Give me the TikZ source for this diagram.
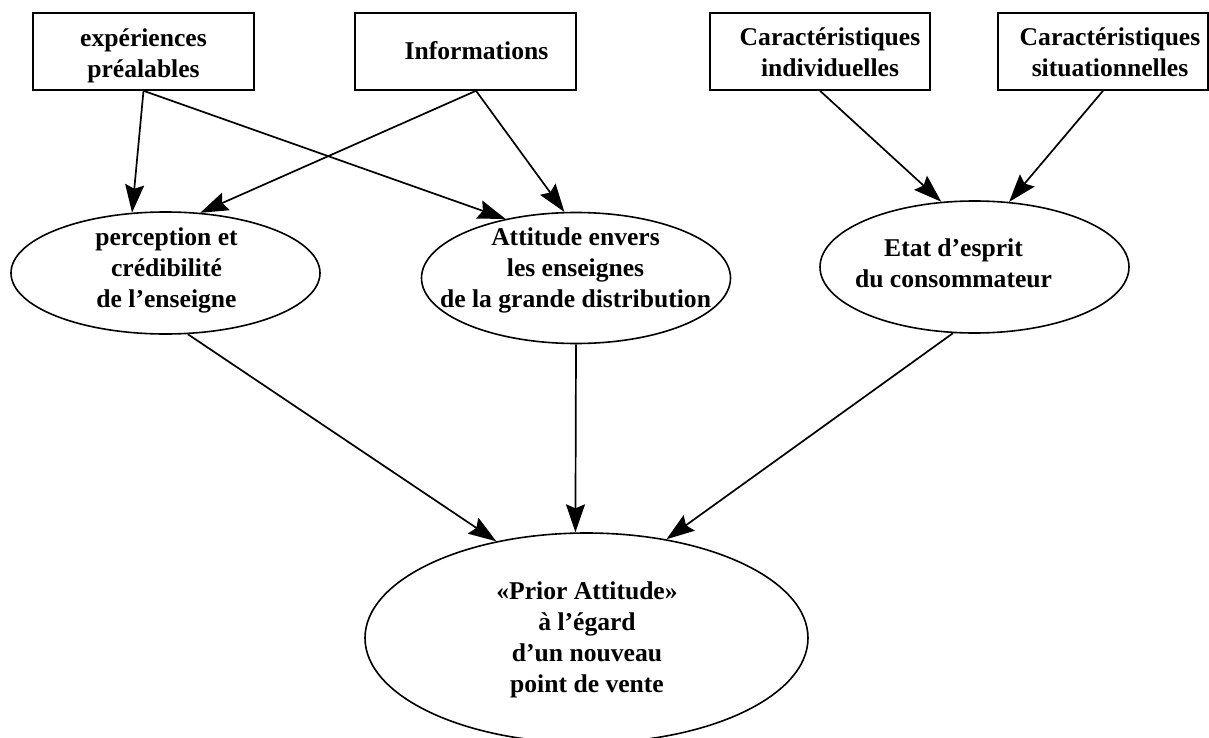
\documentclass[tikz,border=0pt]{standalone}
\usepackage{fontspec}
\setmainfont{Liberation Serif}
\usetikzlibrary{shapes.geometric,arrows.meta}
\begin{document}
\begin{tikzpicture}[x=1pt,y=-1pt,
  box/.style={draw,line width=1.6pt,minimum height=77pt,inner sep=0pt},
  oval/.style={draw,ellipse,line width=1.6pt,inner sep=0pt},
  txt/.style={align=center,inner sep=0pt,font=\bfseries\fontsize{25.6}{31}\selectfont},
  arr/.style={line width=1.7pt,-{Stealth[length=28pt,width=19pt,inset=4pt]}}]
\clip (0,0) rectangle (1209,738);
% boxes
\node[box,minimum width=221pt] (b1) at (143.5,51.5) {};
\node[box,minimum width=221pt] (b2) at (465.5,51.5) {};
\node[box,minimum width=220pt] (b3) at (820,51.5) {};
\node[box,minimum width=210pt] (b4) at (1103,51.5) {};
\node[txt] (t1) at (143.5,55.4) {expériences\\préalables};
\node[txt] (t2) at (476.5,51) {Informations};
\node[txt] (t3) at (830,52.6) {Caractéristiques\\individuelles};
\node[txt] (t4) at (1110,52.6) {Caractéristiques\\situationnelles};
% ellipses
\node[oval,minimum width=309pt,minimum height=122pt] (e1) at (165.5,273) {};
\node[oval,minimum width=309pt,minimum height=131pt] (e2) at (576,278) {};
\node[oval,minimum width=309pt,minimum height=132pt] (e3) at (974.5,267) {};
\node[oval,minimum width=443pt,minimum height=210pt] (e4) at (586.5,638) {};
\node[txt] (te1) at (166.5,270) {perception et\\crédibilité\\de l’enseigne};
\node[txt] (te2) at (575.5,270) {Attitude envers\\les enseignes\\de la grande distribution};
\node[txt] (te3) at (953.5,263.6) {Etat d’esprit\\du consommateur};
\node[txt] (te4) at (587,639.6) {«Prior Attitude»\\à l’égard\\d’un nouveau\\point de vente};
% arrows
\draw[arr] (b1.south) -- (e1.119);
\draw[arr] (b1.south) -- (e2.140);
\draw[arr] (b2.-75) -- (e1.60);
\draw[arr] (b2.-75) -- (e2.100);
\draw[arr] (b3.south) -- (e3.117);
\draw[arr] (b4.south) -- (e3.62);
\draw[arr] (e1.-70) -- (e4.133);
\draw[arr] (e2.south) -- (e4.96);
\draw[arr] (e3.-108) -- (e4.51);
\end{tikzpicture}
\end{document}
